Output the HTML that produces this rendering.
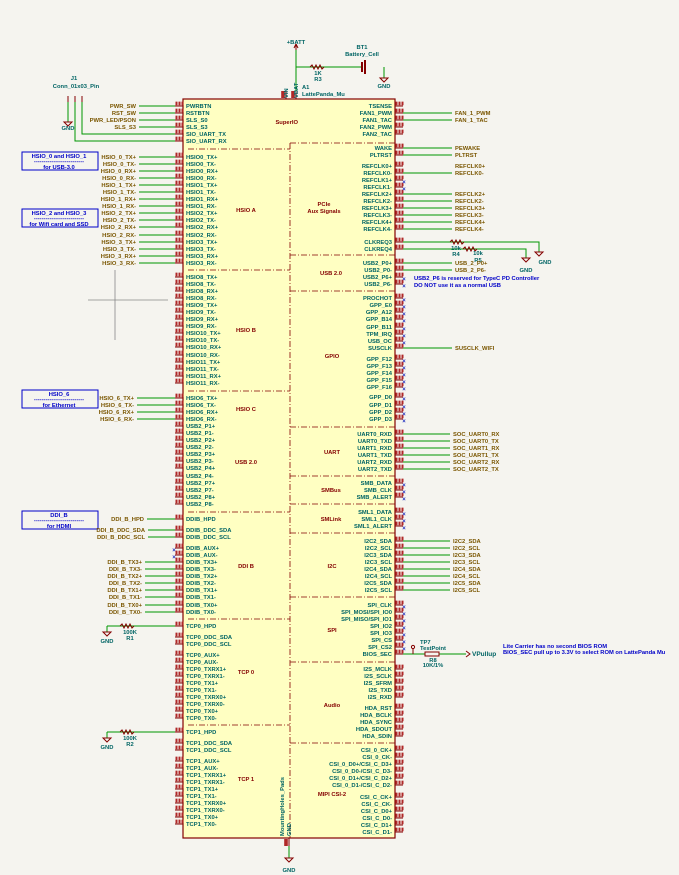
<!DOCTYPE html>
<html><head><meta charset="utf-8"><style>
html,body{margin:0;padding:0;background:#f5f4ef;}
svg{display:block;font-family:"Liberation Sans",sans-serif;font-weight:bold;}
.pn{font-size:5.8px;fill:#006464;}
.lb{font-size:5.8px;fill:#7a5600;}
.sec{font-size:5.8px;fill:#840000;}
.bl{font-size:5.8px;fill:#0000c8;}
.tl{font-size:5.8px;fill:#006464;}
.w{stroke:#009600;stroke-width:1;fill:none;}
.r{stroke:#840000;stroke-width:1;fill:none;}
.d{stroke:#840000;stroke-width:0.8;stroke-dasharray:6,2,1,2;fill:none;}
.x{font-size:6px;fill:#2030c0;}
</style></head><body>
<svg width="679" height="875" viewBox="0 0 679 875" xmlns="http://www.w3.org/2000/svg">
<defs>
<path id="stubs" d="M175 106h8M175 113h8M175 120h8M175 127h8M175 134h8M175 141h8
M175 157h8M175 164h8M175 171h8M175 178h8M175 185h8M175 192h8M175 199h8M175 206h8M175 213h8M175 220h8M175 227h8M175 235h8M175 242h8M175 249h8M175 256h8M175 263h8
M175 277h8M175 284h8M175 291h8M175 298h8M175 305h8M175 312h8M175 319h8M175 326h8M175 333h8M175 340h8M175 347h8M175 355h8M175 362h8M175 369h8M175 376h8M175 383h8
M175 398h8M175 405h8M175 412h8M175 419h8M175 426h8M175 433h8M175 440h8M175 447h8M175 454h8M175 461h8M175 468h8M175 476h8M175 483h8M175 490h8M175 497h8M175 504h8
M175 519h8M175 530h8M175 537h8M175 548h8M175 555h8M175 562h8M175 569h8M175 576h8M175 583h8M175 590h8M175 597h8M175 605h8M175 612h8
M175 626h8M175 637h8M175 644h8M175 655h8M175 662h8M175 669h8M175 676h8M175 683h8M175 690h8M175 697h8M175 704h8M175 711h8M175 718h8
M175 732h8M175 743h8M175 750h8M175 761h8M175 768h8M175 775h8M175 782h8M175 789h8M175 796h8M175 803h8M175 810h8M175 817h8M175 824h8
M395 106h8M395 113h8M395 120h8M395 127h8M395 134h8
M395 148h8M395 155h8M395 166h8M395 173h8M395 180h8M395 187h8M395 194h8M395 201h8M395 208h8M395 215h8M395 222h8M395 229h8M395 242h8M395 249h8
M395 263h8M395 270h8M395 277h8M395 284h8
M395 298h8M395 305h8M395 312h8M395 319h8M395 327h8M395 334h8M395 341h8M395 348h8M395 359h8M395 366h8M395 373h8M395 380h8M395 387h8M395 397h8M395 405h8M395 412h8M395 419h8
M395 434h8M395 441h8M395 448h8M395 455h8M395 462h8M395 469h8M395 483h8M395 490h8M395 497h8M395 512h8M395 519h8M395 526h8
M395 541h8M395 548h8M395 555h8M395 562h8M395 569h8M395 576h8M395 583h8M395 590h8
M395 605h8M395 612h8M395 619h8M395 626h8M395 633h8M395 640h8M395 647h8M395 654h8
M395 669h8M395 676h8M395 683h8M395 690h8M395 697h8M395 708h8M395 715h8M395 722h8M395 729h8M395 736h8
M395 750h8M395 757h8M395 764h8M395 771h8M395 778h8M395 785h8M395 797h8M395 804h8M395 811h8M395 818h8M395 825h8M395 832h8"/>
</defs>
<rect width="679" height="875" fill="#f5f4ef"/>
<path d="M88 300H168M115 270V340" stroke="#888" stroke-width="0.8"/>
<rect x="183" y="99" width="212" height="739" fill="#ffffc2" stroke="#840000" stroke-width="1.2"/>
<path class="d" d="M188 149H290M290 143V838M290 143H395M188 270H290M188 391H290M188 512H290M188 619H290M188 725H290M290 255H395M290 291H395M290 427H395M290 476H395M290 504H395M290 533H395M290 597H395M290 662H395M290 743H395"/>
<!-- pin number blobs -->
<g transform="translate(0.5,-2.6)"><use href="#stubs" stroke="#b02828" stroke-width="3.6" stroke-dasharray="2,1" fill="none"/></g>
<use href="#stubs" class="r" stroke-width="1.2"/>
<path class="r" stroke-width="1.2" d="M286 91v8M296 91v8M289 838v8"/>
<path stroke="#b02828" stroke-width="3.6" d="M283 91v7M293 91v7M286 839v7"/>

<path class="w" d="M139 106H175M139 113H175M139 120H175M139 127H175M82 102V134H175M75 102V141H175
M139 157H175M139 164H175M139 171H175M139 178H175M139 185H175M139 192H175M139 199H175M139 206H175M139 213H175M139 220H175M139 227H175M139 235H175M139 242H175M139 249H175M139 256H175M139 263H175
M137 398H175M137 405H175M137 412H175M137 419H175
M147 519H175M148 530H175M148 537H175M145 562H175M145 569H175M145 576H175M145 583H175M145 590H175M145 597H175M145 605H175M145 612H175
M107 626H175M107 626V632M107 732H175M107 732V738M68 102V122M296 50V91M296 67H362M384 67V78M289 846V858"/>
<path class="w" d="M403 113H452M403 120H452M403 148H452M403 155H452M403 173H452M403 194H452M403 201H452M403 208H452M403 215H452M403 222H452M403 229H452
M403 242H539V252M403 249H526V258M403 263H452M403 270H452M403 348H452
M403 434H450M403 441H450M403 448H450M403 455H450M403 462H450M403 469H450
M403 541H450M403 548H450M403 555H450M403 562H450M403 569H450M403 576H450M403 583H450M403 590H450M403 654H466"/>
<g class="r" stroke-width="1">
<path d="M310 67l2-2 2 4 2-4 2 4 2-4 2 4 2-2"/>
<path d="M120 626l2-2 2 4 2-4 2 4 2-4 2 4 2-2"/>
<path d="M120 732l2-2 2 4 2-4 2 4 2-4 2 4 2-2"/>
<path d="M450 242l2-2 2 4 2-4 2 4 2-4 2 4 2-2"/>
<path d="M463 249l2-2 2 4 2-4 2 4 2-4 2 4 2-2"/>
<rect x="425" y="652" width="14" height="4" fill="#f5f4ef"/>
<path d="M362 62v10M365 60v14" stroke-width="2"/>
<path d="M296 44l-2 4M296 44l2 4M296 44v6M466 651l4 3-4 3"/>
<circle cx="413" cy="647" r="1.6"/><path d="M413 649v5"/>
</g>
<path class="r" stroke-width="1" d="M64 122h8l-4 4zM103 632h8l-4 4zM103 738h8l-4 4zM535 252h8l-4 4zM522 258h8l-4 4zM380 78h8l-4 4zM285 858h8l-4 4z"/>
<path class="r" stroke-width="1.5" d="M68 96v6M75 96v6M82 96v6"/>

<g fill="none" stroke="#0000c8" stroke-width="1">
<rect x="22" y="152" width="76" height="18"/><rect x="22" y="209" width="76" height="18"/>
<rect x="22" y="390" width="76" height="18"/><rect x="22" y="511" width="76" height="18"/>
</g>
<g class="bl" text-anchor="middle">
<text x="59" y="158">HSIO_0 and HSIO_1</text><text x="59" y="163">--------------------------</text><text x="59" y="169">for USB-3.0</text>
<text x="59" y="215">HSIO_2 and HSIO_3</text><text x="59" y="220">--------------------------</text><text x="59" y="226">for Wifi card and SSD</text>
<text x="59" y="396">HSIO_6</text><text x="59" y="401">--------------------------</text><text x="59" y="407">for Ethernet</text>
<text x="59" y="517">DDI_B</text><text x="59" y="522">--------------------------</text><text x="59" y="528">for HDMI</text>
</g>
<g class="bl">
<text x="414" y="280">USB2_P6 is reserved for TypeC PD Controller</text>
<text x="414" y="287">DO NOT use it as a normal USB</text>
<text x="503" y="648">Lite Carrier has no second BIOS ROM</text>
<text x="503" y="654">BIOS_SEC pull up to 3.3V to select ROM on LattePanda Mu</text>
</g>

<g class="tl">
<text x="74" y="80" text-anchor="middle">J1</text><text x="76" y="88" text-anchor="middle">Conn_01x03_Pin</text>
<text x="68" y="130" text-anchor="middle">GND</text>
<text x="296" y="44" text-anchor="middle">+BATT</text>
<text x="362" y="49" text-anchor="middle">BT1</text><text x="362" y="56" text-anchor="middle">Battery_Cell</text>
<text x="384" y="88" text-anchor="middle">GND</text>
<text x="318" y="75" text-anchor="middle">1K</text><text x="318" y="81" text-anchor="middle">R3</text>
<text x="302" y="89">A1</text><text x="302" y="96">LattePanda_Mu</text>
<text x="130" y="634" text-anchor="middle">100K</text><text x="130" y="640" text-anchor="middle">R1</text>
<text x="107" y="643" text-anchor="middle">GND</text>
<text x="130" y="740" text-anchor="middle">100K</text><text x="130" y="746" text-anchor="middle">R2</text>
<text x="107" y="749" text-anchor="middle">GND</text>
<text x="456" y="250" text-anchor="middle">10k</text><text x="456" y="256" text-anchor="middle">R4</text>
<text x="478" y="255" text-anchor="middle">10k</text><text x="478" y="262" text-anchor="middle">R5</text>
<text x="526" y="272" text-anchor="middle">GND</text><text x="545" y="264" text-anchor="middle">GND</text>
<text x="420" y="644">TP7</text><text x="420" y="650">TestPoint</text>
<text x="433" y="662" text-anchor="middle">R8</text><text x="433" y="667" text-anchor="middle">10K/1%</text>
<text x="472" y="656" font-size="6.5">VPullup</text>
<text x="289" y="872" text-anchor="middle">GND</text>
</g>
<g class="tl" font-size="5px">
<text transform="translate(288,98) rotate(-90)">VIN</text>
<text transform="translate(298,98) rotate(-90)">VBAT</text>
<text transform="translate(284,836) rotate(-90)">MountingHoles_Pads</text>
<text transform="translate(291,836) rotate(-90)">GND</text>
</g>
<text class="sec" x="298" y="124" text-anchor="end">SuperIO</text>

<g class="sec" text-anchor="middle">
<text x="246" y="212">HSIO A</text><text x="246" y="332">HSIO B</text><text x="246" y="411">HSIO C</text>
<text x="246" y="464">USB 2.0</text><text x="246" y="568">DDI B</text><text x="246" y="674">TCP 0</text><text x="246" y="781">TCP 1</text>
<text x="324" y="206">PCIe</text><text x="324" y="213">Aux Signals</text><text x="331" y="275">USB 2.0</text>
<text x="332" y="358">GPIO</text><text x="332" y="454">UART</text><text x="331" y="492">SMBus</text><text x="331" y="521">SMLink</text>
<text x="332" y="568">I2C</text><text x="332" y="632">SPI</text><text x="332" y="707">Audio</text><text x="332" y="796">MIPI CSI-2</text>
</g>

<g class="pn">
<text x="186" y="108">PWRBTN</text><text x="186" y="115">RSTBTN</text><text x="186" y="122">SLS_S0</text><text x="186" y="129">SLS_S3</text><text x="186" y="136">SIO_UART_TX</text><text x="186" y="143">SIO_UART_RX</text>
<text x="186" y="159">HSIO0_TX+</text><text x="186" y="166">HSIO0_TX-</text><text x="186" y="173">HSIO0_RX+</text><text x="186" y="180">HSIO0_RX-</text>
<text x="186" y="187">HSIO1_TX+</text><text x="186" y="194">HSIO1_TX-</text><text x="186" y="201">HSIO1_RX+</text><text x="186" y="208">HSIO1_RX-</text>
<text x="186" y="215">HSIO2_TX+</text><text x="186" y="222">HSIO2_TX-</text><text x="186" y="229">HSIO2_RX+</text><text x="186" y="237">HSIO2_RX-</text>
<text x="186" y="244">HSIO3_TX+</text><text x="186" y="251">HSIO3_TX-</text><text x="186" y="258">HSIO3_RX+</text><text x="186" y="265">HSIO3_RX-</text>
<text x="186" y="279">HSIO8_TX+</text><text x="186" y="286">HSIO8_TX-</text><text x="186" y="293">HSIO8_RX+</text><text x="186" y="300">HSIO8_RX-</text>
<text x="186" y="307">HSIO9_TX+</text><text x="186" y="314">HSIO9_TX-</text><text x="186" y="321">HSIO9_RX+</text><text x="186" y="328">HSIO9_RX-</text>
<text x="186" y="335">HSIO10_TX+</text><text x="186" y="342">HSIO10_TX-</text><text x="186" y="349">HSIO10_RX+</text><text x="186" y="357">HSIO10_RX-</text>
<text x="186" y="364">HSIO11_TX+</text><text x="186" y="371">HSIO11_TX-</text><text x="186" y="378">HSIO11_RX+</text><text x="186" y="385">HSIO11_RX-</text>
<text x="186" y="400">HSIO6_TX+</text><text x="186" y="407">HSIO6_TX-</text><text x="186" y="414">HSIO6_RX+</text><text x="186" y="421">HSIO6_RX-</text>
<text x="186" y="428">USB2_P1+</text><text x="186" y="435">USB2_P1-</text><text x="186" y="442">USB2_P2+</text><text x="186" y="449">USB2_P2-</text>
<text x="186" y="456">USB2_P3+</text><text x="186" y="463">USB2_P3-</text><text x="186" y="470">USB2_P4+</text><text x="186" y="478">USB2_P4-</text>
<text x="186" y="485">USB2_P7+</text><text x="186" y="492">USB2_P7-</text><text x="186" y="499">USB2_P8+</text><text x="186" y="506">USB2_P8-</text>
<text x="186" y="521">DDIB_HPD</text><text x="186" y="532">DDIB_DDC_SDA</text><text x="186" y="539">DDIB_DDC_SCL</text>
<text x="186" y="550">DDIB_AUX+</text><text x="186" y="557">DDIB_AUX-</text><text x="186" y="564">DDIB_TX3+</text><text x="186" y="571">DDIB_TX3-</text>
<text x="186" y="578">DDIB_TX2+</text><text x="186" y="585">DDIB_TX2-</text><text x="186" y="592">DDIB_TX1+</text><text x="186" y="599">DDIB_TX1-</text>
<text x="186" y="607">DDIB_TX0+</text><text x="186" y="614">DDIB_TX0-</text>
<text x="186" y="628">TCP0_HPD</text><text x="186" y="639">TCP0_DDC_SDA</text><text x="186" y="646">TCP0_DDC_SCL</text>
<text x="186" y="657">TCP0_AUX+</text><text x="186" y="664">TCP0_AUX-</text><text x="186" y="671">TCP0_TXRX1+</text><text x="186" y="678">TCP0_TXRX1-</text>
<text x="186" y="685">TCP0_TX1+</text><text x="186" y="692">TCP0_TX1-</text><text x="186" y="699">TCP0_TXRX0+</text><text x="186" y="706">TCP0_TXRX0-</text>
<text x="186" y="713">TCP0_TX0+</text><text x="186" y="720">TCP0_TX0-</text>
<text x="186" y="734">TCP1_HPD</text><text x="186" y="745">TCP1_DDC_SDA</text><text x="186" y="752">TCP1_DDC_SCL</text>
<text x="186" y="763">TCP1_AUX+</text><text x="186" y="770">TCP1_AUX-</text><text x="186" y="777">TCP1_TXRX1+</text><text x="186" y="784">TCP1_TXRX1-</text>
<text x="186" y="791">TCP1_TX1+</text><text x="186" y="798">TCP1_TX1-</text><text x="186" y="805">TCP1_TXRX0+</text><text x="186" y="812">TCP1_TXRX0-</text>
<text x="186" y="819">TCP1_TX0+</text><text x="186" y="826">TCP1_TX0-</text>
</g>

<g class="pn" text-anchor="end">
<text x="392" y="108">TSENSE</text><text x="392" y="115">FAN1_PWM</text><text x="392" y="122">FAN1_TAC</text><text x="392" y="129">FAN2_PWM</text><text x="392" y="136">FAN2_TAC</text>
<text x="392" y="150">WAKE</text><text x="392" y="157">PLTRST</text>
<text x="392" y="168">REFCLK0+</text><text x="392" y="175">REFCLK0-</text><text x="392" y="182">REFCLK1+</text><text x="392" y="189">REFCLK1-</text>
<text x="392" y="196">REFCLK2+</text><text x="392" y="203">REFCLK2-</text><text x="392" y="210">REFCLK3+</text><text x="392" y="217">REFCLK3-</text>
<text x="392" y="224">REFCLK4+</text><text x="392" y="231">REFCLK4-</text><text x="392" y="244">CLKREQ3</text><text x="392" y="251">CLKREQ4</text>
<text x="392" y="265">USB2_P0+</text><text x="392" y="272">USB2_P0-</text><text x="392" y="279">USB2_P6+</text><text x="392" y="286">USB2_P6-</text>
<text x="392" y="300">PROCHOT</text><text x="392" y="307">GPP_E0</text><text x="392" y="314">GPP_A12</text><text x="392" y="321">GPP_B14</text>
<text x="392" y="329">GPP_B11</text><text x="392" y="336">TPM_IRQ</text><text x="392" y="343">USB_OC</text><text x="392" y="350">SUSCLK</text>
<text x="392" y="361">GPP_F12</text><text x="392" y="368">GPP_F13</text><text x="392" y="375">GPP_F14</text><text x="392" y="382">GPP_F15</text><text x="392" y="389">GPP_F16</text>
<text x="392" y="399">GPP_D0</text><text x="392" y="407">GPP_D1</text><text x="392" y="414">GPP_D2</text><text x="392" y="421">GPP_D3</text>
<text x="392" y="436">UART0_RXD</text><text x="392" y="443">UART0_TXD</text><text x="392" y="450">UART1_RXD</text><text x="392" y="457">UART1_TXD</text><text x="392" y="464">UART2_RXD</text><text x="392" y="471">UART2_TXD</text>
<text x="392" y="485">SMB_DATA</text><text x="392" y="492">SMB_CLK</text><text x="392" y="499">SMB_ALERT</text>
<text x="392" y="514">SML1_DATA</text><text x="392" y="521">SML1_CLK</text><text x="392" y="528">SML1_ALERT</text>
<text x="392" y="543">I2C2_SDA</text><text x="392" y="550">I2C2_SCL</text><text x="392" y="557">I2C3_SDA</text><text x="392" y="564">I2C3_SCL</text>
<text x="392" y="571">I2C4_SDA</text><text x="392" y="578">I2C4_SCL</text><text x="392" y="585">I2C5_SDA</text><text x="392" y="592">I2C5_SCL</text>
<text x="392" y="607">SPI_CLK</text><text x="392" y="614">SPI_MOSI/SPI_IO0</text><text x="392" y="621">SPI_MISO/SPI_IO1</text><text x="392" y="628">SPI_IO2</text>
<text x="392" y="635">SPI_IO3</text><text x="392" y="642">SPI_CS</text><text x="392" y="649">SPI_CS2</text><text x="392" y="656">BIOS_SEC</text>
<text x="392" y="671">I2S_MCLK</text><text x="392" y="678">I2S_SCLK</text><text x="392" y="685">I2S_SFRM</text><text x="392" y="692">I2S_TXD</text><text x="392" y="699">I2S_RXD</text>
<text x="392" y="710">HDA_RST</text><text x="392" y="717">HDA_BCLK</text><text x="392" y="724">HDA_SYNC</text><text x="392" y="731">HDA_SDOUT</text><text x="392" y="738">HDA_SDIN</text>
<text x="392" y="752">CSI_0_CK+</text><text x="392" y="759">CSI_0_CK-</text><text x="392" y="766">CSI_0_D0+/CSI_C_D3+</text><text x="392" y="773">CSI_0_D0-/CSI_C_D3-</text>
<text x="392" y="780">CSI_0_D1+/CSI_C_D2+</text><text x="392" y="787">CSI_0_D1-/CSI_C_D2-</text>
<text x="392" y="799">CSI_C_CK+</text><text x="392" y="806">CSI_C_CK-</text><text x="392" y="813">CSI_C_D0+</text><text x="392" y="820">CSI_C_D0-</text><text x="392" y="827">CSI_C_D1+</text><text x="392" y="834">CSI_C_D1-</text>
</g>

<g class="lb" text-anchor="end">
<text x="136" y="108">PWR_SW</text><text x="136" y="115">RST_SW</text><text x="136" y="122">PWR_LED/PSON</text><text x="136" y="129">SLS_S3</text>
<text x="136" y="159">HSIO_0_TX+</text><text x="136" y="166">HSIO_0_TX-</text><text x="136" y="173">HSIO_0_RX+</text><text x="136" y="180">HSIO_0_RX-</text>
<text x="136" y="187">HSIO_1_TX+</text><text x="136" y="194">HSIO_1_TX-</text><text x="136" y="201">HSIO_1_RX+</text><text x="136" y="208">HSIO_1_RX-</text>
<text x="136" y="215">HSIO_2_TX+</text><text x="136" y="222">HSIO_2_TX-</text><text x="136" y="229">HSIO_2_RX+</text><text x="136" y="237">HSIO_2_RX-</text>
<text x="136" y="244">HSIO_3_TX+</text><text x="136" y="251">HSIO_3_TX-</text><text x="136" y="258">HSIO_3_RX+</text><text x="136" y="265">HSIO_3_RX-</text>
<text x="134" y="400">HSIO_6_TX+</text><text x="134" y="407">HSIO_6_TX-</text><text x="134" y="414">HSIO_6_RX+</text><text x="134" y="421">HSIO_6_RX-</text>
<text x="144" y="521">DDI_B_HPD</text><text x="145" y="532">DDI_B_DDC_SDA</text><text x="145" y="539">DDI_B_DDC_SCL</text>
<text x="142" y="564">DDI_B_TX3+</text><text x="142" y="571">DDI_B_TX3-</text><text x="142" y="578">DDI_B_TX2+</text><text x="142" y="585">DDI_B_TX2-</text>
<text x="142" y="592">DDI_B_TX1+</text><text x="142" y="599">DDI_B_TX1-</text><text x="142" y="607">DDI_B_TX0+</text><text x="142" y="614">DDI_B_TX0-</text>
</g>
<g class="lb">
<text x="455" y="115">FAN_1_PWM</text><text x="455" y="122">FAN_1_TAC</text>
<text x="455" y="150">PEWAKE</text><text x="455" y="157">PLTRST</text>
<text x="455" y="168">REFCLK0+</text><text x="455" y="175">REFCLK0-</text>
<text x="455" y="196">REFCLK2+</text><text x="455" y="203">REFCLK2-</text><text x="455" y="210">REFCLK3+</text><text x="455" y="217">REFCLK3-</text>
<text x="455" y="224">REFCLK4+</text><text x="455" y="231">REFCLK4-</text>
<text x="455" y="265">USB_2_P0+</text><text x="455" y="272">USB_2_P6-</text>
<text x="455" y="350">SUSCLK_WIFI</text>
<text x="453" y="436">SOC_UART0_RX</text><text x="453" y="443">SOC_UART0_TX</text><text x="453" y="450">SOC_UART1_RX</text>
<text x="453" y="457">SOC_UART1_TX</text><text x="453" y="464">SOC_UART2_RX</text><text x="453" y="471">SOC_UART2_TX</text>
<text x="453" y="543">I2C2_SDA</text><text x="453" y="550">I2C2_SCL</text><text x="453" y="557">I2C3_SDA</text><text x="453" y="564">I2C3_SCL</text>
<text x="453" y="571">I2C4_SDA</text><text x="453" y="578">I2C4_SCL</text><text x="453" y="585">I2C5_SDA</text><text x="453" y="592">I2C5_SCL</text>
</g>
<g class="x" text-anchor="middle">
<text x="404" y="184">×</text><text x="404" y="191">×</text><text x="404" y="281">×</text><text x="404" y="288">×</text>
<text x="404" y="302">×</text><text x="404" y="309">×</text><text x="404" y="316">×</text><text x="404" y="323">×</text><text x="404" y="331">×</text><text x="404" y="338">×</text><text x="404" y="345">×</text>
<text x="404" y="363">×</text><text x="404" y="370">×</text><text x="404" y="377">×</text><text x="404" y="384">×</text><text x="404" y="391">×</text>
<text x="404" y="401">×</text><text x="404" y="409">×</text><text x="404" y="416">×</text><text x="404" y="423">×</text>
<text x="404" y="487">×</text><text x="404" y="494">×</text><text x="404" y="501">×</text><text x="404" y="516">×</text><text x="404" y="523">×</text><text x="404" y="530">×</text>
<text x="404" y="609">×</text><text x="404" y="616">×</text><text x="404" y="623">×</text><text x="404" y="630">×</text><text x="404" y="637">×</text><text x="404" y="644">×</text><text x="404" y="651">×</text>
<text x="174" y="552">×</text><text x="174" y="559">×</text>
</g>
</svg>
</body></html>
